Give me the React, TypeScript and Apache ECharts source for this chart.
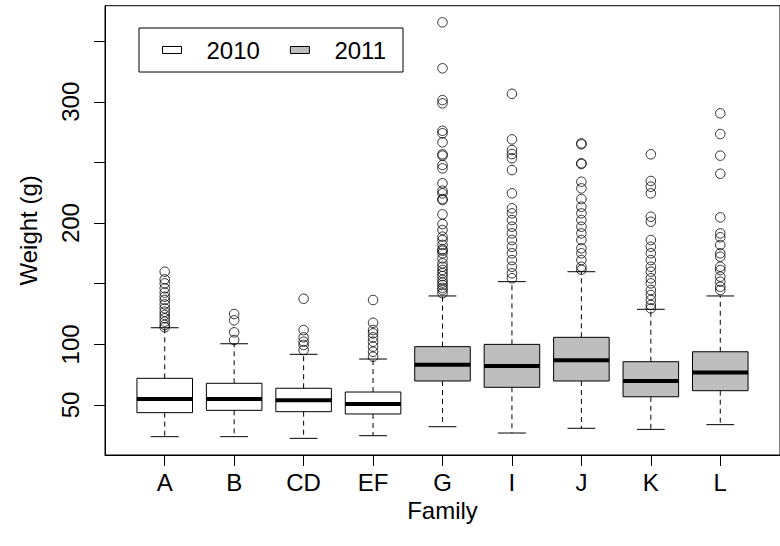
import { useEffect, useRef } from "react";
import * as echarts from "echarts";

// Families on the x axis and the season each one was weighed in
const families = ["A", "B", "CD", "EF", "G", "I", "J", "K", "L"];
const seasonOf = ["2010", "2010", "2010", "2010", "2011", "2011", "2011", "2011", "2011"];

// Five-number summaries per family (g)
const whiskerLow = [23.9, 23.9, 22.5, 24.7, 32.1, 26.9, 30.8, 29.9, 33.8];
const quartile1 = [43.7, 45.6, 44.5, 42.6, 69.8, 64.6, 69.8, 56.8, 61.8];
const medians = [54.9, 54.9, 53.9, 50.8, 83.2, 82.2, 86.8, 69.8, 76.9];
const quartile3 = [72.0, 67.9, 63.8, 60.7, 98.1, 100.0, 105.8, 85.7, 93.9];
const whiskerHigh = [113.7, 100.5, 91.8, 87.9, 139.9, 151.7, 159.9, 128.9, 139.9];

// Points beyond the whiskers, per family
const outA = [159.9, 153.6, 150.3, 146.2, 142.6, 139.3, 136.6, 133.0, 129.7, 126.9, 124.2, 121.5, 118.7, 116.0, 114.1];
const outB = [103.6, 109.9, 119.8, 125.0];
const outCD = [95.3, 99.5, 102.2, 105.8, 111.8, 137.6];
const outEF = [89.8, 93.9, 98.1, 102.2, 105.8, 109.1, 111.8, 117.8, 136.6];
const outG = [365.5, 327.6, 301.4, 298.7, 276.1, 274.0, 266.6, 256.7, 255.6, 247.9, 245.1, 232.8, 226.7, 224.5, 219.8, 219.0, 207.2, 199.2, 194.3, 188.8, 186.0, 182.0, 178.4, 177.2, 175.1, 170.9, 166.8, 164.0, 161.3, 158.8, 156.3, 153.1, 150.9, 148.9, 146.5, 144.8, 142.1];
const outI = [306.6, 269.0, 260.2, 256.9, 253.4, 243.7, 224.5, 212.2, 208.0, 202.5, 197.0, 191.5, 186.0, 180.5, 175.1, 169.5, 164.0, 158.6, 154.5];
const outJ = [265.7, 264.9, 249.3, 248.7, 234.1, 228.6, 219.8, 213.5, 208.0, 202.5, 197.0, 191.5, 186.0, 179.2, 175.1, 169.5, 164.0, 161.5];
const outK = [256.7, 234.7, 230.0, 224.5, 205.2, 201.1, 186.0, 180.5, 175.1, 169.5, 164.0, 159.9, 154.5, 150.3, 144.8, 140.7, 136.6, 132.4, 129.7];
const outL = [290.5, 273.4, 255.6, 240.7, 204.7, 191.5, 188.3, 181.9, 175.1, 172.3, 164.0, 161.3, 155.8, 151.7, 147.5, 144.8];
const outliers = [outA, outB, outCD, outEF, outG, outI, outJ, outK, outL];

// Axis ticks
const yTicks = [50, 100, 150, 200, 250, 300, 350];
const yLabels = [50, 100, 200, 300];
const seasons = ["2010", "2011"];
const seasonFill: Record<string, string> = { "2010": "#ffffff", "2011": "#bebebe" };

const FONT = "'Liberation Sans', Arial, Helvetica, sans-serif";
const BOX_WIDTH = 0.8;

function buildOption() {
  const n = families.length;
  const xPos = families.map((_, i) => i + 1);

  // axis limits padded by 4% of the data range on each side
  const allValues = [...whiskerLow, ...whiskerHigh, ...outliers.flat()];
  const lo = Math.min(...allValues);
  const hi = Math.max(...allValues);
  const yPad = 0.04 * (hi - lo);
  const xPad = 0.04 * n;

  const renderBox = (fill: string) => (_params: any, api: any) => {
    const x = api.value(0);
    const [cx, yLow] = api.coord([x, api.value(1)]);
    const yQ1 = api.coord([x, api.value(2)])[1];
    const yMed = api.coord([x, api.value(3)])[1];
    const yQ3 = api.coord([x, api.value(4)])[1];
    const yHigh = api.coord([x, api.value(5)])[1];
    const half = api.size([BOX_WIDTH, 0])[0] / 2;
    const staple = half / 2;
    const solid = { stroke: "#000", lineWidth: 1, fill: "none" };
    const dashed = { ...solid, lineDash: [5, 4] };
    return {
      type: "group",
      children: [
        { type: "line", shape: { x1: cx, y1: yQ3, x2: cx, y2: yHigh }, style: dashed },
        { type: "line", shape: { x1: cx, y1: yQ1, x2: cx, y2: yLow }, style: dashed },
        { type: "line", shape: { x1: cx - staple, y1: yHigh, x2: cx + staple, y2: yHigh }, style: solid },
        { type: "line", shape: { x1: cx - staple, y1: yLow, x2: cx + staple, y2: yLow }, style: solid },
        {
          type: "rect",
          shape: { x: cx - half, y: yQ3, width: half * 2, height: yQ1 - yQ3 },
          style: { fill, stroke: "#000", lineWidth: 1 },
        },
        { type: "line", shape: { x1: cx - half, y1: yMed, x2: cx + half, y2: yMed }, style: { stroke: "#000", lineWidth: 4 } },
      ],
    };
  };

  const boxSeries = seasons.map((season) => ({
    name: season,
    type: "custom",
    renderItem: renderBox(seasonFill[season]),
    encode: { x: 0, y: [1, 2, 3, 4, 5] },
    itemStyle: { color: seasonFill[season], borderColor: "#000" },
    data: families
      .map((_, i) => i)
      .filter((i) => seasonOf[i] === season)
      .map((i) => [xPos[i], whiskerLow[i], quartile1[i], medians[i], quartile3[i], whiskerHigh[i]]),
    silent: true,
  }));

  const outlierSeries = {
    name: "outliers",
    type: "scatter",
    symbol: "circle",
    symbolSize: 9.5,
    itemStyle: { color: "rgba(0,0,0,0)", borderColor: "#000", borderWidth: 1 },
    data: outliers.flatMap((vals, i) => vals.map((v) => [xPos[i], v])),
    silent: true,
    z: 3,
  };

  const textBase = { fontFamily: FONT, fontSize: 24, color: "#000" };

  return {
    animation: false,
    backgroundColor: "#ffffff",
    legend: {
      left: 139,
      top: 28,
      orient: "horizontal",
      padding: [10, 17, 10, 23],
      itemGap: 30,
      itemWidth: 19,
      itemHeight: 7,
      borderColor: "#000",
      borderWidth: 1,
      borderRadius: 0,
      selectedMode: false,
      textStyle: { ...textBase, lineHeight: 24, padding: [0, 0, 0, 20] },
      data: seasons.map((s) => ({
        name: s,
        icon: "rect",
        itemStyle: { color: seasonFill[s], borderColor: "#000", borderWidth: 1 },
      })),
    },
    grid: {
      left: 105,
      top: 5.7,
      width: 684.4,
      height: 449.3,
      show: true,
      borderColor: "#000",
      borderWidth: 1,
      backgroundColor: "transparent",
    },
    xAxis: {
      type: "value",
      min: 0.5 - xPad,
      max: n + 0.5 + xPad,
      splitLine: { show: false },
      axisLine: { show: true, onZero: false, lineStyle: { color: "#000", width: 1 } },
      axisTick: { show: true, length: 11, customValues: xPos, lineStyle: { color: "#000" } },
      axisLabel: {
        ...textBase,
        lineHeight: 20,
        customValues: xPos,
        margin: 17,
        formatter: (v: number) => families[Math.round(v) - 1] ?? "",
      },
      name: "Family",
      nameLocation: "middle",
      nameGap: 45,
      nameMoveOverlap: false,
      nameTextStyle: { ...textBase, lineHeight: 20 },
    },
    yAxis: {
      type: "value",
      min: lo - yPad,
      max: hi + yPad,
      splitLine: { show: false },
      axisLine: { show: true, onZero: false, lineStyle: { color: "#000", width: 1 } },
      axisTick: { show: true, length: 11, customValues: yTicks, lineStyle: { color: "#000" } },
      axisLabel: {
        ...textBase,
        customValues: yLabels,
        rotate: 90,
        margin: 23,
      },
      name: "Weight (g)",
      nameLocation: "middle",
      nameRotate: 90,
      nameGap: 65,
      nameMoveOverlap: false,
      nameTextStyle: textBase,
    },
    series: [...boxSeries, outlierSeries],
  };
}

export default function App() {
  const ref = useRef<HTMLDivElement>(null);

  useEffect(() => {
    document.body.style.margin = "0";
    if (!ref.current) return;
    const chart = echarts.init(ref.current, undefined, { renderer: "svg" });
    chart.setOption(buildOption() as any);
    return () => chart.dispose();
  }, []);

  return <div ref={ref} style={{ width: 780, height: 546, background: "#fff" }} />;
}
